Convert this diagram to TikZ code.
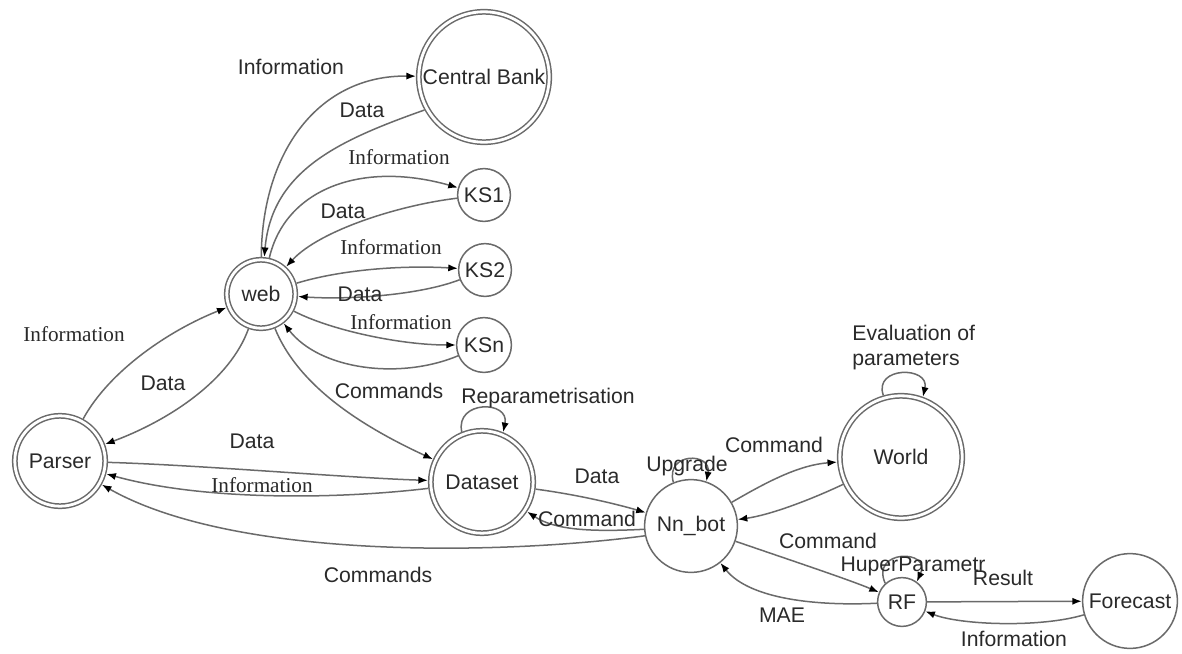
\documentclass[tikz,border=0pt]{standalone}
\usepackage{fontspec}
\setmainfont{Liberation Sans}
\newfontfamily\serifi{Liberation Serif}
\usetikzlibrary{arrows.meta}
\definecolor{ln}{HTML}{6A6A6A}
\definecolor{tx}{HTML}{2A2A2A}
\begin{document}
\begin{tikzpicture}[x=0.5pt,y=-0.5pt,
  every node/.style={font=\fontsize{10.6pt}{12.5pt}\selectfont, text=tx},
  st/.style={circle, draw=ln, line width=0.75pt, inner sep=0pt},
  dst/.style={st, double=white, double distance=1.4pt, outer sep=1.45pt},
  con/.style={draw=ln, line width=0.75pt, -{Latex[length=4.8pt,width=3.6pt,black]}},
  lbl/.style={inner sep=1pt},
  slbl/.style={lbl, font=\serifi\fontsize{10.6pt}{12.5pt}\selectfont}
]
\useasboundingbox (0,0) rectangle (1182,653);
\fill[white] (0,0) rectangle (1182,653);

% nodes
\node[dst, minimum size=65.2pt] (cb) at (484,77) {Central Bank};
\node[st, minimum size=26.4pt] (ks1) at (484,195) {KS1};
\node[st, minimum size=26.4pt] (ks2) at (485,270) {KS2};
\node[st, minimum size=27.4pt] (ksn) at (484,345) {KSn};
\node[dst, minimum size=34.2pt] (web) at (261,294) {web};
\node[dst, minimum size=45.2pt] (parser) at (60,461) {Parser};
\node[dst, minimum size=51.2pt] (dataset) at (482,482) {Dataset};
\node[st, minimum size=46.4pt] (nn) at (691,526) {Nn\_bot};
\node[dst, minimum size=61.2pt] (world) at (901,457) {World};
\node[st, minimum size=24.4pt] (rf) at (902,602) {RF};
\node[st, minimum size=47.4pt] (fc) at (1130,601) {Forecast};

% connectors
\draw[con] (web) .. controls (262,150) and (320,75) .. (cb);
\draw[con] (cb.209) .. controls (340,140) and (272,170) .. (web);
\draw[con] (web) .. controls (285,190) and (360,160) .. (ks1);
\draw[con] (ks1) .. controls (400,205) and (320,230) .. (web);
\draw[con] (web) .. controls (340,270) and (400,265) .. (ks2);
\draw[con] (ks2) .. controls (420,295) and (350,300) .. (web);
\draw[con] (web) .. controls (330,330) and (400,345) .. (ksn);
\draw[con] (ksn) .. controls (400,380) and (320,370) .. (web);
\draw[con] (web) .. controls (300,390) and (370,430) .. (dataset);
\draw[con] (parser) .. controls (110,370) and (170,330) .. (web);
\draw[con] (web) .. controls (230,380) and (170,420) .. (parser);
\draw[con] (parser) .. controls (200,465) and (350,478) .. (dataset);
\draw[con] (dataset) .. controls (330,500) and (200,500) .. (parser);
\draw[con] (nn.192) .. controls (500,555) and (235,560) .. (parser);
\draw[con] (dataset.112) .. controls (455,400) and (510,400) .. (dataset.67);
\draw[con] (dataset) .. controls (580,495) and (620,505) .. (nn);
\draw[con] (nn.184) .. controls (590,532) and (555,530) .. (dataset);
\draw[con] (nn.112) .. controls (665,452) and (712,452) .. (nn.71);
\draw[con] (nn) .. controls (770,480) and (800,465) .. (world);
\draw[con] (world) .. controls (810,500) and (770,515) .. (nn);
\draw[con] (world.106) .. controls (873,366) and (930,366) .. (world.70);
\draw[con] (nn) .. controls (790,560) and (850,580) .. (rf);
\draw[con] (rf) .. controls (820,606) and (750,600) .. (nn);
\draw[con] (rf.132) .. controls (870,549) and (932,549) .. (rf.54);
\draw[con] (rf) -- (fc);
\draw[con] (fc) .. controls (1040,628) and (960,625) .. (rf);

% labels
\node[lbl] (l1) at (291,67) {Information};
\node[lbl] (l2) at (362,110) {Data};
\node[slbl] (l3) at (399,157) {Information};
\node[lbl] (l4) at (343,211) {Data};
\node[slbl] (l5) at (391,247) {Information};
\node[lbl] (l6) at (360,294) {Data};
\node[slbl] (l7) at (401,322) {Information};
\node[lbl] (l8) at (389,391) {Commands};
\node[slbl] (l9) at (74,334) {Information};
\node[lbl] (l10) at (163,383) {Data};
\node[lbl] (l11) at (252,441) {Data};
\node[slbl] (l12) at (262,485) {Information};
\node[lbl] (l13) at (378,575) {Commands};
\node[lbl] (l14) at (548,398) {Reparametrisation};
\node[lbl] (l15) at (597,476) {Data};
\node[lbl] (l16) at (587,519) {Command};
\node[lbl] (l17) at (687,466) {Upgrade};
\node[lbl] (l18) at (774,445) {Command};
\node[lbl, align=left, anchor=west] (l19) at (850,348) {Evaluation of\\parameters};
\node[lbl] (l20) at (828,541) {Command};
\node[lbl] (l21) at (782,615) {MAE};
\node[lbl] (l22) at (913,566) {HuperParametr};
\node[lbl] (l23) at (1003,578) {Result};
\node[lbl] (l24) at (1014,639) {Information};
\end{tikzpicture}
\end{document}
